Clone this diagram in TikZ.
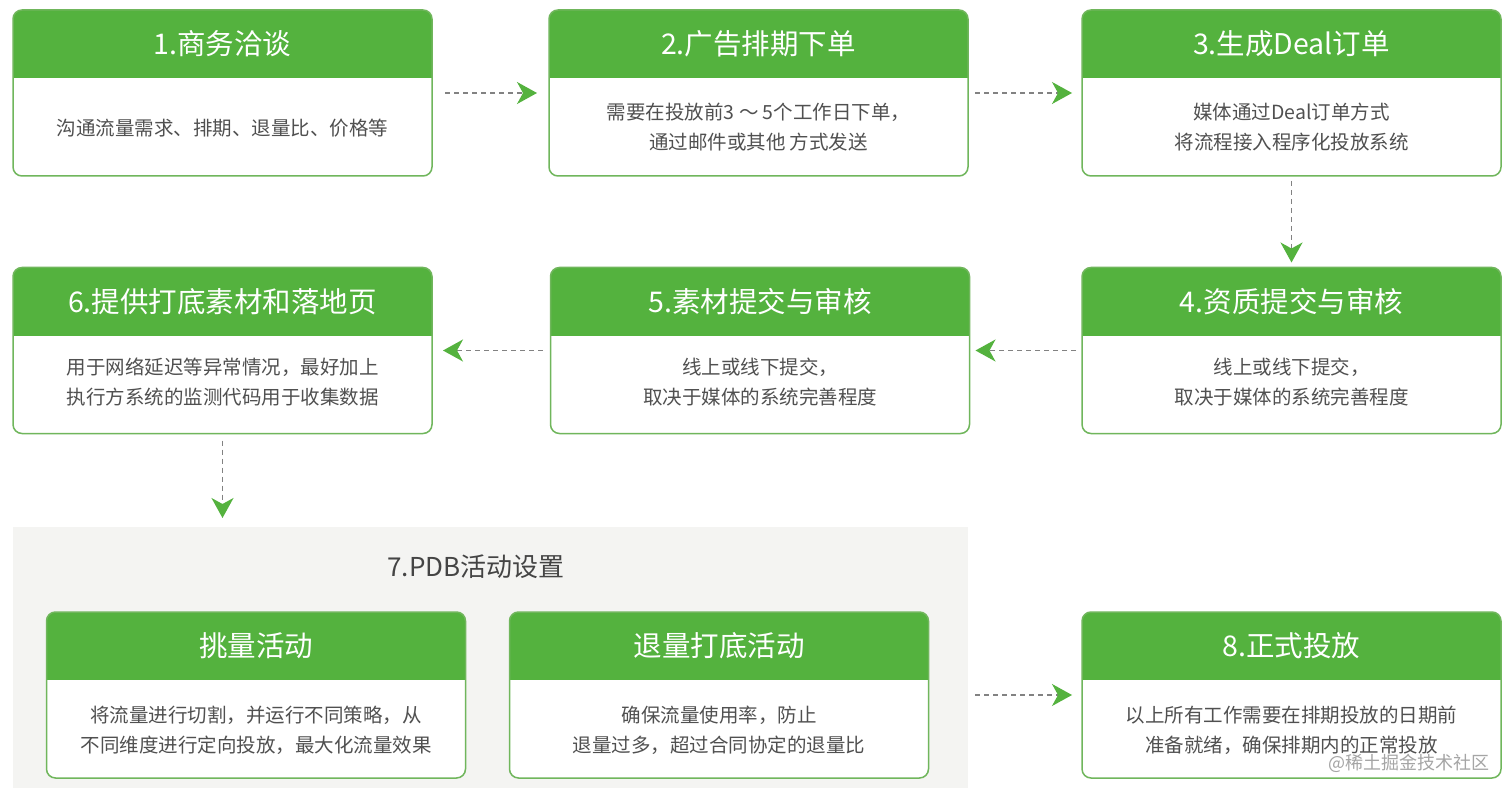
\documentclass[tikz,border=0pt]{standalone}
\usepackage{fontspec}
\setmainfont{Noto Sans CJK SC}
\usetikzlibrary{arrows.meta,calc}
\definecolor{hdgreen}{RGB}{84,178,62}
\definecolor{bordergreen}{RGB}{112,182,92}
\definecolor{bodygray}{RGB}{80,80,80}
\definecolor{dashgray}{RGB}{130,130,130}
\definecolor{regiongray}{RGB}{244,244,242}
\definecolor{titlegray}{RGB}{68,68,68}
\definecolor{wmgray}{RGB}{165,165,165}
\tikzset{
  stepbox/.style={draw=bordergreen, line width=1.5pt, rounded corners=9pt, fill=white,
    minimum width=419pt, minimum height=166pt, inner sep=0pt, outer sep=0pt,
    path picture={\fill[hdgreen, sharp corners] (path picture bounding box.north west) rectangle ([yshift=-68pt]path picture bounding box.north east);}},
  headtext/.style={text=white, font=\fontsize{28.5}{32}\selectfont, inner sep=0pt},
  bodytext/.style={text=bodygray, font=\fontsize{19.5}{30}\selectfont, align=center, inner sep=0pt},
  flow/.style={draw=dashgray, dash pattern=on 5pt off 4pt, line width=1.4pt,
    -{Stealth[length=20pt,width=22pt,inset=6pt,color=hdgreen]}},
  region/.style={fill=regiongray, minimum width=955pt, minimum height=261pt, inner sep=0pt, outer sep=0pt, anchor=north west},
  titletext/.style={text=titlegray, font=\fontsize{26}{30}\selectfont, inner sep=0pt},
  wmtext/.style={text=wmgray, font=\fontsize{18}{20}\selectfont, inner sep=0pt},
}
\begin{document}
\begin{tikzpicture}[x=1pt,y=-1pt]
\useasboundingbox[fill=white] (0,0) rectangle (1512,794);

% PDB region
\node[region] (pdb) at (13,527) {};
\node[titletext] (t7) at (476,567) {7.PDB活动设置};

% boxes
\node[stepbox] (b1) at (222.5,93) {};
\node[stepbox] (b2) at (758.5,93) {};
\node[stepbox] (b3) at (1291.5,93) {};
\node[stepbox] (b4) at (1291.5,350.5) {};
\node[stepbox] (b5) at (760,350.5) {};
\node[stepbox] (b6) at (222.5,350.5) {};
\node[stepbox] (b7a) at (256,695) {};
\node[stepbox] (b7b) at (719,695) {};
\node[stepbox] (b8) at (1291.5,695) {};

% headers
\node[headtext] (h1) at ([yshift=-34pt]b1.north) {1.商务洽谈};
\node[headtext] (h2) at ([yshift=-34pt]b2.north) {2.广告排期下单};
\node[headtext] (h3) at ([yshift=-34pt]b3.north) {3.生成Deal订单};
\node[headtext] (h4) at ([yshift=-34pt]b4.north) {4.资质提交与审核};
\node[headtext] (h5) at ([yshift=-34pt]b5.north) {5.素材提交与审核};
\node[headtext] (h6) at ([yshift=-34pt]b6.north) {6.提供打底素材和落地页};
\node[headtext] (h7a) at ([yshift=-34pt]b7a.north) {挑量活动};
\node[headtext] (h7b) at ([yshift=-34pt]b7b.north) {退量打底活动};
\node[headtext] (h8) at ([yshift=-34pt]b8.north) {8.正式投放};

% bodies
\node[bodytext] (d1) at ([yshift=-118pt]b1.north) {沟通流量需求、排期、退量比、价格等};
\node[bodytext] (d2) at ([yshift=-117pt]b2.north) {需要在投放前3 ～ 5个工作日下单，\\通过邮件或其他 方式发送};
\node[bodytext] (d3) at ([yshift=-117pt]b3.north) {媒体通过Deal订单方式\\将流程接入程序化投放系统};
\node[bodytext] (d4) at ([yshift=-115pt]b4.north) {线上或线下提交，\\取决于媒体的系统完善程度};
\node[bodytext] (d5) at ([yshift=-115pt]b5.north) {线上或线下提交，\\取决于媒体的系统完善程度};
\node[bodytext] (d6) at ([yshift=-115pt]b6.north) {用于网络延迟等异常情况，最好加上\\执行方系统的监测代码用于收集数据};
\node[bodytext] (d7a) at ([yshift=-118pt]b7a.north) {将流量进行切割，并运行不同策略，从\\不同维度进行定向投放，最大化流量效果};
\node[bodytext] (d7b) at ([yshift=-118pt]b7b.north) {确保流量使用率，防止\\退量过多，超过合同协定的退量比};
\node[bodytext] (d8) at ([yshift=-118pt]b8.north) {以上所有工作需要在排期投放的日期前\\准备就绪，确保排期内的正常投放};

% watermark
\node[wmtext] (wm) at (1409,763) {@稀土掘金技术社区};

% connectors
\draw[flow, shorten <=13pt, shorten >=12pt] (b1) -- (b2);
\draw[flow, shorten <=7pt, shorten >=10pt] (b2) -- (b3);
\draw[flow, shorten <=5pt, shorten >=5pt] (b3) -- (b4);
\draw[flow, shorten <=6pt, shorten >=6pt] (b4) -- (b5);
\draw[flow, shorten <=8pt, shorten >=11pt] (b5) -- (b6);
\draw[flow, shorten <=7pt, shorten >=9pt] (b6.south) -- (b6.south |- pdb.north);
\draw[flow, shorten <=7pt, shorten >=10pt] (pdb.east |- b8.west) -- (b8.west);
\end{tikzpicture}
\end{document}
